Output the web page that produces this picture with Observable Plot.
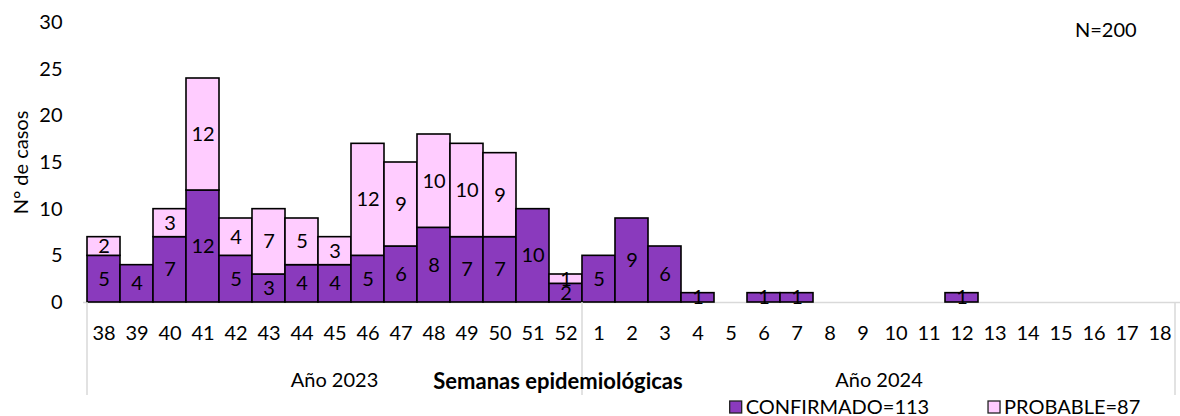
<!DOCTYPE html>
<html>
<head>
<meta charset="utf-8">
<script src="https://cdn.jsdelivr.net/npm/d3@7"></script>
<script src="https://cdn.jsdelivr.net/npm/@observablehq/plot@0.6"></script>
<style>
  body { margin: 0; background: #fff; font-family: Lato, sans-serif; }
  #chart svg { display: block; }
</style>
</head>
<body>
<div id="chart"></div>
<script>
// ---- data ----
const weeks2023 = [38, 39, 40, 41, 42, 43, 44, 45, 46, 47, 48, 49, 50, 51, 52];
const weeks2024 = [1, 2, 3, 4, 5, 6, 7, 8, 9, 10, 11, 12, 13, 14, 15, 16, 17, 18];
const confirmados2023 = [5, 4, 7, 12, 5, 3, 4, 4, 5, 6, 8, 7, 7, 10, 2];
const probables2023   = [2, 0, 3, 12, 4, 7, 5, 3, 12, 9, 10, 10, 9, 0, 1];
const confirmados2024 = [5, 9, 6, 1, 0, 1, 1, 0, 0, 0, 0, 1, 0, 0, 0, 0, 0, 0];
const probables2024   = [0, 0, 0, 0, 0, 0, 0, 0, 0, 0, 0, 0, 0, 0, 0, 0, 0, 0];
const series = ["CONFIRMADO", "PROBABLE"];
const legendLabels = ["CONFIRMADO=113", "PROBABLE=87"];
const yearLabels = ["Año 2023", "Año 2024"];
const axisTitle = "Semanas epidemiológicas";
const yTitle = "N° de casos";
const totalLabel = "N=200";
const yTicks = [0, 5, 10, 15, 20, 25, 30];
const colors = ["#8A3ABD", "#FFCCFF"];

// ---- build table ----
const keys2023 = weeks2023.map(w => `2023-${w}`);
const keys2024 = weeks2024.map(w => `2024-${w}`);
const keys = [...keys2023, ...keys2024];
const rows = [];
function add(ks, conf, prob) {
  ks.forEach((k, i) => {
    if (conf[i] > 0) rows.push({key: k, series: series[0], value: conf[i]});
    if (prob[i] > 0) rows.push({key: k, series: series[1], value: prob[i]});
  });
}
add(keys2023, confirmados2023, probables2023);
add(keys2024, confirmados2024, probables2024);

const FONT = "Lato, sans-serif";
const FS = 20;

const plot = Plot.plot({
  width: 1180,
  height: 416,
  marginLeft: 83,
  marginRight: 0,
  marginTop: 22,
  marginBottom: 114,
  style: {fontFamily: FONT, fontSize: FS + "px", background: "white", color: "#000", overflow: "visible"},
  x: {domain: keys, padding: 0, tickSize: 0, tickPadding: 23, tickFormat: k => k.split("-")[1], label: null},
  y: {domain: [0, 30], ticks: yTicks, tickSize: 0, tickPadding: 21, label: yTitle, labelAnchor: "center", labelArrow: "none", labelOffset: 70},
  color: {domain: series, range: colors},
  marks: [
    Plot.ruleY([0], {stroke: "#d9d9d9", strokeWidth: 1.5}),
    Plot.barY(rows, {x: "key", y: "value", fill: "series", z: "series", order: series, stroke: "#000", strokeWidth: 1.6}),
    Plot.text(rows, Plot.stackY({x: "key", y: "value", z: "series", order: series, text: d => String(d.value), fill: "#000", fontSize: FS}))
  ]
});

document.getElementById("chart").appendChild(plot);

// ---- annotations positioned from Plot's own scales ----
const xs = plot.scale("x");
const ys = plot.scale("y");
const bw = xs.bandwidth;
const left = k => xs.apply(k);
const right = k => xs.apply(k) + bw;
const y0 = ys.apply(0);
const svg = d3.select(plot);
const g = svg.append("g").attr("font-family", FONT).attr("fill", "#000").attr("text-anchor", "start");

// vertical separators under axis
const sepX = [left(keys2023[0]), left(keys2024[0]), right(keys2024[keys2024.length - 1]) - 1];
g.selectAll("line.sep").data(sepX).join("line").attr("class", "sep")
  .attr("x1", d => d).attr("x2", d => d)
  .attr("y1", y0).attr("y2", y0 + 93)
  .attr("stroke", "#d9d9d9").attr("stroke-width", 1.5);

// year labels
const yearCenters = [
  (left(keys2023[0]) + right(keys2023[keys2023.length - 1])) / 2,
  (left(keys2024[0]) + right(keys2024[keys2024.length - 1])) / 2
];
g.selectAll("text.year").data(yearLabels).join("text").attr("class", "year")
  .attr("x", (d, i) => yearCenters[i]).attr("y", y0 + 78)
  .attr("dy", "0.35em").attr("text-anchor", "middle")
  .attr("font-size", FS).text(d => d);

// axis title
const [r0, r1] = xs.range;
g.append("text")
  .attr("x", r0 + 0.433 * (r1 - r0)).attr("y", y0 + 79)
  .attr("dy", "0.35em").attr("text-anchor", "middle")
  .attr("font-size", 22).attr("font-weight", "bold").text(axisTitle);

// legend
const legX = [r0 + 0.5895 * (r1 - r0), r0 + 0.825 * (r1 - r0)];
const lg = g.selectAll("g.leg").data(legendLabels).join("g").attr("class", "leg")
  .attr("transform", (d, i) => `translate(${legX[i]},${y0 + 105})`);
lg.append("rect").attr("x", 0).attr("y", -6).attr("width", 12).attr("height", 12)
  .attr("fill", (d, i) => colors[i]).attr("stroke", "#222").attr("stroke-width", 1.3);
lg.append("text").attr("x", 16).attr("y", 0).attr("dy", "0.35em")
  .attr("text-anchor", "start")
  .attr("font-size", FS).text(d => d);

// total N
g.append("text")
  .attr("x", r1 - 105).attr("y", ys.apply(30) + 8).attr("dy", "0.35em")
  .attr("text-anchor", "start")
  .attr("font-size", FS).text(totalLabel);
</script>
</body>
</html>
